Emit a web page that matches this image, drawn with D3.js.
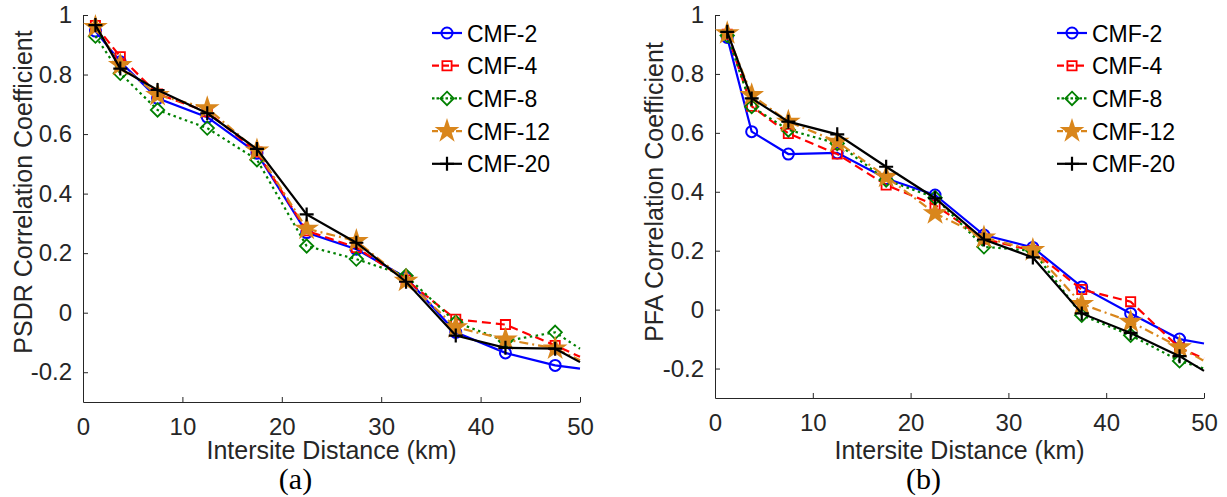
<!DOCTYPE html>
<html>
<head>
<meta charset="utf-8">
<script src="https://cdn.jsdelivr.net/npm/d3@7"></script>
<style>
  body { margin: 0; background: #fff; }
  svg { display: block; }
  text { font-family: "Liberation Sans", Arial, sans-serif; }
</style>
</head>
<body>
<svg width="1227" height="497"></svg>
<script>
// distance bins (km), last value is the line end at the axis limit
var distances = [1.25, 3.75, 7.5, 12.5, 17.5, 22.5, 27.5, 32.5, 37.5, 42.5, 47.5, 50];
var seriesNames = ['CMF-2', 'CMF-4', 'CMF-8', 'CMF-12', 'CMF-20'];
var xTicks = [0, 10, 20, 30, 40, 50];
var yTicks = [-0.2, 0, 0.2, 0.4, 0.6, 0.8, 1];

// (a) PSDR correlation coefficient
var psdr2  = [0.946, 0.843, 0.720, 0.657, 0.536, 0.269, 0.213, 0.118, -0.066, -0.135, -0.177, -0.188];
var psdr4  = [0.965, 0.860, 0.735, 0.675, 0.540, 0.275, 0.219, 0.110, -0.022, -0.040, -0.110, -0.148];
var psdr8  = [0.929, 0.804, 0.681, 0.620, 0.514, 0.224, 0.180, 0.124, -0.032, -0.095, -0.066, -0.121];
var psdr12 = [0.960, 0.832, 0.731, 0.687, 0.545, 0.282, 0.241, 0.107, -0.049, -0.090, -0.120, -0.160];
var psdr20 = [0.966, 0.820, 0.748, 0.670, 0.550, 0.330, 0.235, 0.104, -0.077, -0.118, -0.121, -0.166];

// (b) PFA correlation coefficient
var pfa2  = [0.924, 0.604, 0.528, 0.532, 0.445, 0.389, 0.253, 0.211, 0.077, -0.013, -0.100, -0.115];
var pfa4  = [0.935, 0.690, 0.598, 0.528, 0.423, 0.355, 0.240, 0.200, 0.068, 0.027, -0.130, -0.166];
var pfa8  = [0.930, 0.689, 0.610, 0.564, 0.440, 0.380, 0.213, 0.200, -0.019, -0.087, -0.174, -0.200];
var pfa12 = [0.938, 0.728, 0.638, 0.570, 0.451, 0.327, 0.245, 0.202, 0.019, -0.041, -0.128, -0.174];
var pfa20 = [0.943, 0.717, 0.638, 0.595, 0.485, 0.378, 0.238, 0.177, -0.013, -0.079, -0.158, -0.208];

// line / marker styles per series
var styles = [
  { color: '#0000ff', dash: null,      marker: 'circle' },
  { color: '#ff0000', dash: '9,5',     marker: 'square' },
  { color: '#008000', dash: '2.5,3.5', marker: 'diamond' },
  { color: '#d9861c', dash: '9,4,2,4', marker: 'star' },
  { color: '#000000', dash: null,      marker: 'plus' }
];

var panels = [
  { left: 83,  right: 580,  top: 15, bottom: 402, series: [psdr2, psdr4, psdr8, psdr12, psdr20],
    ylabel: 'PSDR Correlation Coefficient', ylabelX: 32, tag: '(a)', legendX: 432 },
  { left: 715, right: 1204, top: 15, bottom: 398, series: [pfa2, pfa4, pfa8, pfa12, pfa20],
    ylabel: 'PFA Correlation Coefficient', ylabelX: 663, tag: '(b)', legendX: 1057 }
];

var svg = d3.select('svg');
svg.append('rect').attr('width', 1227).attr('height', 497).attr('fill', '#fff');

var markerPath = function (type) {
  if (type === 'square') return d3.symbol(d3.symbolSquare, 85)();
  if (type === 'diamond') return d3.symbol(d3.symbolDiamond2, 115)();
  if (type === 'star') return d3.symbol(d3.symbolStar, 190)();
  if (type === 'plus') return 'M-7,0H7M0,-7V7';
  return null;
};

var drawMarker = function (g, st) {
  if (st.marker === 'circle') {
    g.append('circle').attr('r', 5.5)
      .attr('fill', 'none').attr('stroke', st.color).attr('stroke-width', 2);
  } else if (st.marker === 'star') {
    g.append('path').attr('d', markerPath('star')).attr('fill', st.color);
  } else {
    g.append('path').attr('d', markerPath(st.marker))
      .attr('fill', 'none').attr('stroke', st.color)
      .attr('stroke-width', st.marker === 'plus' ? 2.2 : 1.8);
  }
};

var fmt = function (d) { return String(+d.toFixed(1)); };

panels.forEach(function (p, pi) {
  var x = d3.scaleLinear().domain([0, 50]).range([p.left, p.right]);
  var y = d3.scaleLinear().domain([-0.3, 1]).range([p.bottom, p.top]);

  // axes
  var gx = svg.append('g')
    .attr('transform', 'translate(0,' + p.bottom + ')')
    .call(d3.axisBottom(x).tickValues(xTicks).tickFormat(fmt)
      .tickSizeInner(-5).tickSizeOuter(0).tickPadding(16));
  var gy = svg.append('g')
    .attr('transform', 'translate(' + p.left + ',0)')
    .call(d3.axisLeft(y).tickValues(yTicks).tickFormat(fmt)
      .tickSizeInner(-5).tickSizeOuter(0).tickPadding(11));
  [gx, gy].forEach(function (g) {
    g.select('.domain').attr('stroke', '#262626');
    g.selectAll('.tick line').attr('stroke', '#262626');
    g.selectAll('.tick text').attr('fill', '#262626')
      .style('font-size', '24px').style('font-family', '"Liberation Sans", Arial, sans-serif');
  });

  // labels
  svg.append('text')
    .attr('x', (p.left + p.right) / 2).attr('y', 459)
    .attr('text-anchor', 'middle').attr('fill', '#262626')
    .style('font-size', '25px')
    .text('Intersite Distance (km)');
  svg.append('text')
    .attr('transform', 'translate(' + p.ylabelX + ',' + 192 + ') rotate(-90)')
    .attr('text-anchor', 'middle').attr('fill', '#262626')
    .style('font-size', '25px')
    .text(p.ylabel);
  svg.append('text')
    .attr('x', (p.left + p.right) / 2 - 36).attr('y', 489)
    .attr('text-anchor', 'middle').attr('fill', '#000')
    .style('font-family', '"Liberation Serif", "Times New Roman", serif')
    .style('font-size', '30px')
    .text(p.tag);

  // clip to axes box
  svg.append('clipPath').attr('id', 'clip' + pi)
    .append('rect').attr('x', p.left).attr('y', p.top - 12)
    .attr('width', p.right - p.left + 2).attr('height', p.bottom - p.top + 12);

  var line = d3.line()
    .x(function (d) { return x(d[0]); })
    .y(function (d) { return y(d[1]); });

  var plot = svg.append('g');

  p.series.forEach(function (vals, si) {
    var st = styles[si];
    var pts = vals.map(function (v, i) { return [distances[i], v]; });
    plot.append('path')
      .datum(pts)
      .attr('d', line)
      .attr('fill', 'none')
      .attr('stroke', st.color)
      .attr('stroke-width', 2.2)
      .attr('stroke-dasharray', st.dash)
      .attr('clip-path', 'url(#clip' + pi + ')');
    plot.selectAll('.m' + si)
      .data(pts.filter(function (d) { return d[0] < 50; }))
      .enter()
      .append('g')
      .attr('class', 'm' + si)
      .attr('transform', function (d) { return 'translate(' + x(d[0]) + ',' + y(d[1]) + ')'; })
      .each(function () { drawMarker(d3.select(this), st); });
  });

  // legend
  var lg = svg.append('g');
  seriesNames.forEach(function (name, si) {
    var st = styles[si];
    var ly = 33 + si * 32.7;
    lg.append('line')
      .attr('x1', p.legendX).attr('x2', p.legendX + 30)
      .attr('y1', ly).attr('y2', ly)
      .attr('stroke', st.color).attr('stroke-width', 2.2)
      .attr('stroke-dasharray', st.dash ? (si === 2 ? '2.5,2' : (si === 3 ? '6,2,2,2' : '7,3')) : null);
    drawMarker(lg.append('g').attr('transform', 'translate(' + (p.legendX + 15) + ',' + ly + ')'), st);
    lg.append('text')
      .attr('x', p.legendX + 35).attr('y', ly + 8.5)
      .attr('fill', '#000')
      .style('font-size', '23px')
      .text(name);
  });
});
</script>
</body>
</html>
